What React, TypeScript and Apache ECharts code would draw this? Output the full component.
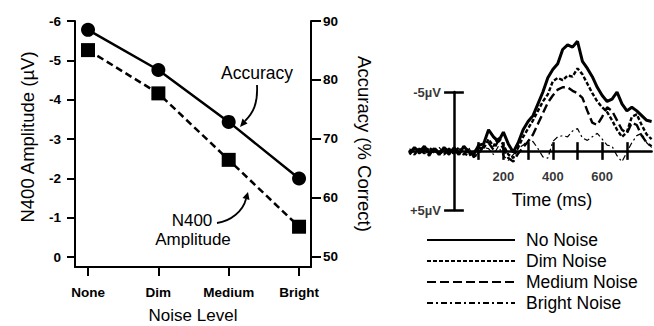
import React, { useEffect, useRef } from 'react';
import * as echarts from 'echarts';

// ---- Left panel data ----
const noiseLevels = ['None', 'Dim', 'Medium', 'Bright'];
const accuracyPct = [88.5, 81.7, 72.9, 63.3];
const n400Amp = [-5.26, -4.16, -2.47, -0.77];
const leftTicks = [-6, -5, -4, -3, -2, -1, 0];
const rightTicks = [50, 60, 70, 80, 90];

// ---- Right panel data (ERP waveforms, µV, negative up) ----
const erpTimes = [-180, -160, -140, -120, -100, -80, -60, -40, -20, 0,
  20, 40, 60, 80, 100, 120, 140, 160, 180, 200,
  220, 240, 260, 280, 300, 320, 340, 360, 380, 400,
  420, 440, 460, 480, 500, 520, 540, 560, 580, 600,
  620, 640, 660, 680, 700, 720, 740, 760, 780, 800];
const noNoise = [0.2, -0.3, 0.1, -0.4, 0.2, -0.2, 0.3, -0.3, 0.1, -0.2,
  0.3, -0.4, 0.1, 0.3, -0.5, -0.6, -1.8, -1.2, -0.8, -1.6,
  -0.6, 0.1, -0.7, -1.8, -2.5, -3.0, -4.0, -5.0, -6.2, -6.9,
  -7.4, -8.6, -9.0, -8.8, -9.3, -7.6, -7.0, -6.3, -5.4, -4.7,
  -4.2, -4.4, -5.0, -4.0, -3.4, -3.7, -3.4, -3.0, -2.6, -2.5];
const dimNoise = [-0.1, 0.3, -0.2, 0.2, -0.3, 0.1, -0.1, 0.3, -0.2, 0.2,
  -0.3, 0.2, 0.4, 0.1, -0.3, -0.2, -1.0, -0.4, -1.2, -0.5,
  0.3, 0.6, -0.3, -1.2, -1.9, -2.6, -3.4, -4.2, -4.8, -5.9,
  -6.2, -6.0, -6.4, -6.3, -7.0, -6.5, -5.7, -4.9, -4.2, -3.7,
  -3.3, -2.6, -1.8, -1.2, -1.6, -2.9, -3.1, -2.2, -1.4, -1.0];
const mediumNoise = [0.3, -0.2, 0.2, -0.1, 0.4, -0.3, 0.2, -0.1, 0.3, -0.3,
  0.1, 0.3, -0.2, 0.5, 0.2, -0.4, -0.7, -0.1, -0.9, -0.2,
  0.6, 0.9, 0.2, -0.3, -0.8, -1.4, -2.3, -3.2, -4.1, -4.7,
  -5.2, -5.4, -5.4, -5.1, -4.9, -4.5, -3.4, -2.4, -2.2, -2.9,
  -3.7, -3.4, -2.6, -1.8, -1.5, -2.4, -2.2, -1.3, -0.7, -0.4];
const brightNoise = [-0.2, 0.1, -0.3, 0.3, -0.1, 0.2, -0.3, 0.2, -0.1, 0.3,
  -0.2, 0.1, -0.3, 0.6, 0.1, -0.3, -0.2, 0.3, -0.4, 0.4,
  0.8, 0.3, -0.2, -0.5, -0.9, -0.8, -0.2, 0.5, 0.6, -0.8,
  -1.2, -1.3, -1.2, -1.7, -1.9, -1.1, -0.9, -1.2, -1.5, -1.0,
  -0.5, -0.4, 0.4, 0.9, 0.1, -0.7, -1.3, -1.5, -0.7, -0.3];
const timeTicks = [100, 200, 300, 400, 500, 600, 700];
const timeLabels = [200, 400, 600];
const scaleBarValues = [-5, 5];

const FONT = '"Liberation Sans", Arial, Helvetica, sans-serif';
const BLACK = '#000';

export default function App() {
  const ref = useRef<HTMLDivElement>(null);

  useEffect(() => {
    if (!ref.current) return;
    const chart = echarts.init(ref.current, undefined, { renderer: 'svg' });

    const pair = (vals: number[]) => erpTimes.map((t, i) => [t, vals[i]]);

    const erpSeries = [
      { name: 'No Noise', data: noNoise, width: 3, type: 'solid' as any },
      { name: 'Dim Noise', data: dimNoise, width: 2.4, type: [4, 2] },
      { name: 'Medium Noise', data: mediumNoise, width: 2.4, type: [9, 4] },
      { name: 'Bright Noise', data: brightNoise, width: 1.2, type: [6, 3, 2, 3] },
    ];

    const markSegments: any[] = [];
    scaleBarValues.forEach((v) => {
      markSegments.push([{ coord: [-40, v] }, { coord: [40, v] }]);
    });
    timeTicks.forEach((t) => {
      markSegments.push([{ coord: [t, -0.75] }, { coord: [t, 0.75] }]);
    });

    const labelSeries = (data: number[][], position: string, distance: number, fmt: (v: number[]) => string) => ({
      type: 'scatter', xAxisIndex: 1, yAxisIndex: 2, data, symbolSize: 0.1,
      itemStyle: { color: 'rgba(0,0,0,0)' }, silent: true, clip: false,
      label: {
        show: true, position, distance, fontSize: 13, fontWeight: 'bold', color: BLACK, fontFamily: FONT,
        formatter: (p: any) => fmt(p.value),
      },
    });

    const textStyle = (text: string, fontSize: number) => ({
      text, fontSize, fontFamily: FONT, fill: BLACK,
      align: 'center', verticalAlign: 'middle', textAlign: 'center', textVerticalAlign: 'middle',
    });

    const option: any = {
      animation: false,
      backgroundColor: '#fff',
      textStyle: { fontFamily: FONT, color: BLACK },
      grid: [
        { left: 75, right: 343, top: 21, bottom: 59, outerBoundsMode: 'none', containLabel: false },
        { left: 409.5, right: 2.4, top: 92, bottom: 116, outerBoundsMode: 'none', containLabel: false },
      ],
      xAxis: [
        {
          type: 'value', gridIndex: 0, min: -0.185, max: 3.17,
          axisLine: { show: true, onZero: false, lineStyle: { color: BLACK, width: 2 } },
          axisTick: { show: true, customValues: [0, 1, 2, 3], length: 9, lineStyle: { color: BLACK, width: 2 } },
          axisLabel: {
            customValues: [0, 1, 2, 3], margin: 18, fontSize: 13.5, fontWeight: 'bold', color: BLACK,
            formatter: (v: number) => noiseLevels[Math.round(v)] ?? '',
          },
          splitLine: { show: false },
          name: 'Noise Level', nameLocation: 'middle', nameGap: 40,
          nameTextStyle: { fontSize: 17, color: BLACK, fontFamily: FONT },
        },
        {
          type: 'value', gridIndex: 1, min: -180, max: 800,
          axisLine: { show: true, onZero: true, lineStyle: { color: BLACK, width: 2.5 } },
          axisTick: { show: false },
          axisLabel: { show: false },
          splitLine: { show: false },
        },
      ],
      yAxis: [
        {
          type: 'value', gridIndex: 0, inverse: true, min: -6, max: 0.254, position: 'left',
          axisLine: { show: true, onZero: false, lineStyle: { color: BLACK, width: 2 } },
          axisTick: { show: true, customValues: leftTicks, length: 8, lineStyle: { color: BLACK, width: 2 } },
          axisLabel: { customValues: leftTicks, margin: 14, fontSize: 13.5, fontWeight: 'bold', color: BLACK },
          splitLine: { show: false },
        },
        {
          type: 'value', gridIndex: 0, min: 48.305, max: 90, position: 'right',
          axisLine: { show: true, onZero: false, lineStyle: { color: BLACK, width: 2 } },
          axisTick: { show: true, customValues: rightTicks, length: 10, lineStyle: { color: BLACK, width: 2 } },
          axisLabel: { customValues: rightTicks, margin: 12, fontSize: 13.5, fontWeight: 'bold', color: BLACK },
          splitLine: { show: false },
          name: 'Accuracy (% Correct)', nameLocation: 'middle', nameGap: 44, nameRotate: -90,
          nameTextStyle: { fontSize: 18.5, color: BLACK, fontFamily: FONT },
        },
        {
          type: 'value', gridIndex: 1, inverse: true, min: -5, max: 5,
          axisLine: { show: true, onZero: true, lineStyle: { color: BLACK, width: 2.5 } },
          axisTick: { show: false },
          axisLabel: { show: false },
          splitLine: { show: false },
        },
      ],
      legend: {
        orient: 'vertical', left: 426, top: 231, padding: 0,
        itemWidth: 88, itemHeight: 14, itemGap: 3,
        data: erpSeries.map((s) => s.name),
        itemStyle: { opacity: 0, color: 'rgba(0,0,0,0)', borderWidth: 0 },
        textStyle: { fontSize: 17.5, color: BLACK, fontFamily: FONT, padding: [0, 0, 0, 6] },
        selectedMode: false,
      },
      series: [
        {
          type: 'line', name: 'Accuracy', xAxisIndex: 0, yAxisIndex: 1,
          data: noiseLevels.map((_, i) => [i, accuracyPct[i]]),
          symbol: 'circle', symbolSize: 14,
          itemStyle: { color: BLACK },
          lineStyle: { color: BLACK, width: 2.5, type: 'solid' },
          silent: true, z: 3,
        },
        {
          type: 'line', name: 'N400 Amplitude', xAxisIndex: 0, yAxisIndex: 0,
          data: noiseLevels.map((_, i) => [i, n400Amp[i]]),
          symbol: 'rect', symbolSize: 14,
          itemStyle: { color: BLACK },
          lineStyle: { color: BLACK, width: 2.5, type: [7, 4] },
          silent: true, z: 3,
        },
        ...erpSeries.map((s, idx) => ({
          type: 'line', name: s.name, xAxisIndex: 1, yAxisIndex: 2,
          data: pair(s.data), symbol: 'none', showSymbol: false, clip: false,
          itemStyle: { color: BLACK },
          lineStyle: { color: BLACK, width: s.width, type: s.type },
          silent: true,
          ...(idx === 0
            ? {
                markLine: {
                  silent: true, symbol: ['none', 'none'], label: { show: false },
                  lineStyle: { color: BLACK, width: 2.5, type: 'solid' },
                  data: markSegments,
                },
              }
            : {}),
        })),
        labelSeries(timeLabels.map((t) => [t, 0]), 'bottom', 19, (v) => String(v[0])),
        labelSeries(scaleBarValues.map((v) => [0, v]), 'left', 13, (v) => (v[1] < 0 ? '-5µV' : '+5µV')),
      ],
      graphic: [
        { type: 'text', x: 27, y: 137, rotation: Math.PI / 2, style: textStyle('N400 Amplitude (µV)', 18.5) },
        { type: 'text', x: 257, y: 73, style: textStyle('Accuracy', 17.5) },
        { type: 'text', x: 192, y: 220, style: textStyle('N400', 17) },
        { type: 'text', x: 193, y: 239, style: textStyle('Amplitude', 17) },
        { type: 'text', x: 552, y: 200, style: textStyle('Time (ms)', 18) },
        { type: 'bezierCurve', shape: { x1: 257, y1: 85, cpx1: 258, cpy1: 104, cpx2: 253, cpy2: 113, x2: 245, y2: 121 }, style: { stroke: BLACK, lineWidth: 1.8, fill: 'none' } },
        { type: 'polygon', shape: { points: [[240, 127], [247.5, 123.5], [242.5, 118.5]] }, style: { fill: BLACK } },
        { type: 'bezierCurve', shape: { x1: 217, y1: 223, cpx1: 231, cpy1: 221, cpx2: 243, cpy2: 211, x2: 246, y2: 199 }, style: { stroke: BLACK, lineWidth: 1.8, fill: 'none' } },
        { type: 'polygon', shape: { points: [[248, 192], [249.5, 200], [242.5, 198]] }, style: { fill: BLACK } },
      ],
    };

    chart.setOption(option);
    return () => chart.dispose();
  }, []);

  return (
    <div
      ref={ref}
      style={{ position: 'fixed', left: 0, top: 0, width: 654, height: 326, background: '#fff' }}
    />
  );
}
